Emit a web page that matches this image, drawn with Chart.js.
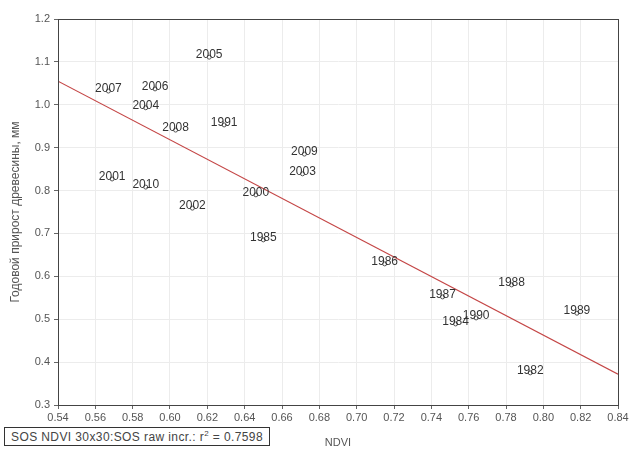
<!DOCTYPE html>
<html>
<head>
<meta charset="utf-8">
<script src="https://cdn.jsdelivr.net/npm/chart.js@4"></script>
<style>
  html, body { margin: 0; padding: 0; background: #fff; }
  #wrap { position: relative; width: 632px; height: 450px; }
  #legendBox {
    position: absolute; left: 4px; top: 427px;
    border: 1px solid #333; padding: 1px 6px;
    font: 12px "Liberation Sans", Arial, sans-serif; color: #444;
    letter-spacing: 0.4px;
    white-space: nowrap; background: #fff;
  }
</style>
</head>
<body>
<div id="wrap">
  <canvas id="myChart" width="632" height="450"></canvas>
  <div id="legendBox">SOS NDVI 30x30:SOS raw incr.: r<sup style="font-size:8px">2</sup> = 0.7598</div>
</div>
<script>
// year labels, NDVI (x) and annual increment (y)
const years = ['2005', '2007', '2006', '2004', '2008', '1991', '2009', '2003', '2001', '2010',
  '2002', '2000', '1985', '1986', '1987', '1984', '1990', '1988', '1989', '1982'];
const ndvi = [0.621, 0.567, 0.592, 0.587, 0.603, 0.629, 0.672, 0.671, 0.569, 0.587,
  0.612, 0.646, 0.650, 0.715, 0.746, 0.753, 0.764, 0.783, 0.818, 0.793];
const increment = [1.111, 1.032, 1.037, 0.993, 0.941, 0.953, 0.885, 0.839, 0.827, 0.808,
  0.759, 0.790, 0.685, 0.629, 0.552, 0.489, 0.503, 0.580, 0.514, 0.375];

// regression line end points
const fitX = [0.54, 0.84];
const fitY = [1.055, 0.372];

const xTicks = [0.54, 0.56, 0.58, 0.60, 0.62, 0.64, 0.66, 0.68, 0.70, 0.72, 0.74, 0.76, 0.78, 0.80, 0.82, 0.84];
const yTicks = [0.3, 0.4, 0.5, 0.6, 0.7, 0.8, 0.9, 1.0, 1.1, 1.2];

const fontFamily = '"Liberation Sans", Arial, sans-serif';

const pointLabels = {
  id: 'pointLabels',
  afterDatasetsDraw(chart) {
    const ctx = chart.ctx;
    const meta = chart.getDatasetMeta(0);
    ctx.save();
    ctx.font = '12px ' + fontFamily;
    ctx.fillStyle = '#333';
    ctx.textAlign = 'center';
    ctx.textBaseline = 'alphabetic';
    meta.data.forEach((pt, i) => {
      ctx.fillText(years[i], pt.x, pt.y + 1);
    });
    ctx.restore();
  }
};

const frame = {
  id: 'frame',
  afterDraw(chart) {
    const a = chart.chartArea;
    const ctx = chart.ctx;
    ctx.save();
    ctx.strokeStyle = '#444';
    ctx.lineWidth = 1;
    ctx.strokeRect(a.left + 0.5, a.top + 0.5, a.right - a.left, a.bottom - a.top);
    ctx.restore();
  }
};

const datasets = [];
datasets.push({
  label: 'years',
  data: ndvi.map((x, i) => ({ x, y: increment[i] })),
  pointRadius: 2,
  pointBorderWidth: 1,
  borderColor: '#555',
  backgroundColor: 'rgba(0,0,0,0)',
  showLine: false,
});
datasets.push({
  label: 'fit',
  data: fitX.map((x, i) => ({ x, y: fitY[i] })),
  showLine: true,
  borderColor: 'rgb(196, 70, 70)',
  borderWidth: 1.2,
  pointRadius: 0,
  fill: false,
});

const config = {
  type: 'scatter',
  data: { datasets },
  options: {
    responsive: false,
    animation: false,
    layout: { padding: { top: 19, right: 14, left: 0, bottom: 0 } },
    plugins: {
      legend: { display: false },
      tooltip: { enabled: false },
    },
    scales: {
      x: {
        type: 'linear',
        min: 0.54,
        max: 0.84,
        afterBuildTicks: s => { s.ticks = xTicks.map(v => ({ value: v })); },
        afterFit: s => { s.height = 45; },
        grid: { color: '#ececec', tickLength: 4, tickColor: '#666' },
        border: { color: '#444' },
        ticks: {
          color: '#555',
          font: { family: fontFamily, size: 11 },
          padding: 2,
          maxRotation: 0,
          autoSkip: false,
          callback: v => v.toFixed(2),
        },
        title: {
          display: true,
          text: 'NDVI',
          color: '#555',
          font: { family: fontFamily, size: 11 },
          padding: { top: 4, bottom: 0 },
        },
      },
      y: {
        type: 'linear',
        min: 0.3,
        max: 1.2,
        afterBuildTicks: s => { s.ticks = yTicks.map(v => ({ value: v })); },
        afterFit: s => { s.width = 58; },
        grid: { color: '#ececec', tickLength: 4, tickColor: '#666' },
        border: { color: '#444' },
        ticks: {
          color: '#555',
          font: { family: fontFamily, size: 11 },
          padding: 4,
          callback: v => v.toFixed(1),
        },
        title: {
          display: true,
          text: 'Годовой прирост древесины, мм',
          color: '#555',
          font: { family: fontFamily, size: 12 },
          padding: { top: 8, bottom: 4 },
        },
      },
    },
  },
  plugins: [pointLabels, frame],
};

const ctx = document.getElementById('myChart').getContext('2d');
const myChart = new Chart(ctx, config);
</script>
</body>
</html>
